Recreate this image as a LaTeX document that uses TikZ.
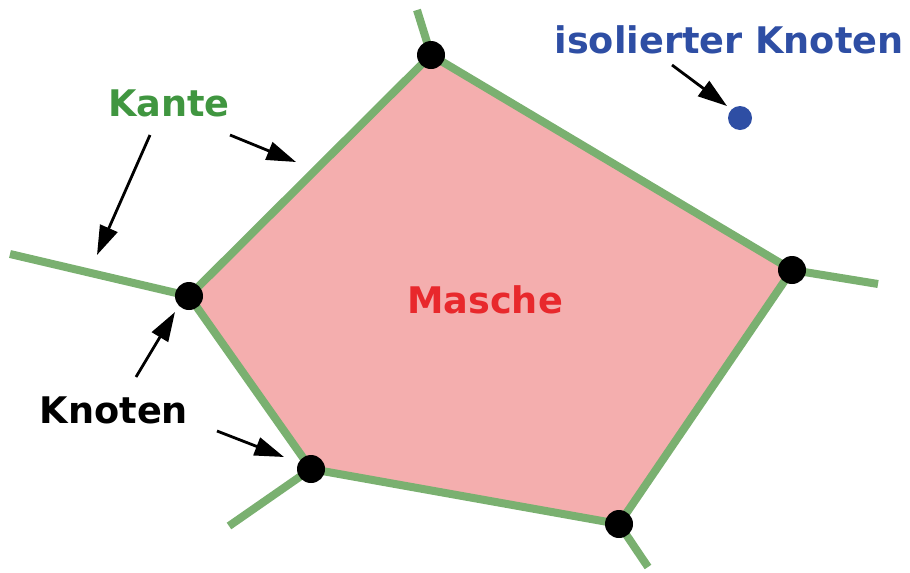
\documentclass[tikz,border=0pt]{standalone}
\usepackage{fontspec}
\setmainfont{DejaVu Sans}
\usepackage{tikz}
\usetikzlibrary{arrows.meta}

\definecolor{kantegruen}{RGB}{122,176,112}
\definecolor{labelgruen}{RGB}{64,150,64}
\definecolor{maschenrot}{RGB}{244,174,174}
\definecolor{textrot}{RGB}{232,40,44}
\definecolor{knotenblau}{RGB}{46,78,164}

\tikzset{
	kante/.style={draw=kantegruen, line width=6pt},
	knoten/.style={circle, fill=black, minimum size=21pt, inner sep=0pt},
	zeiger/.style={line width=2.1pt, -{Triangle[length=22pt, width=14pt]}},
	beschriftung/.style={font=\fontsize{27.5}{32}\selectfont\bfseries, inner sep=0pt}
}

\begin{document}
\begin{tikzpicture}[x=0.75pt, y=-0.75pt]
		%%%%% START %%%%%
		\useasboundingbox (0, 0) rectangle (910, 572);
		
		% Ecken der Masche
		\coordinate (A) at (431, 55);
		\coordinate (B) at (792, 270);
		\coordinate (C) at (619, 524);
		\coordinate (D) at (311, 469);
		\coordinate (E) at (189, 296);
		
		% freie Enden der aeusseren Kanten
		\coordinate (Aaus) at (417, 10);
		\coordinate (Baus) at (878, 284);
		\coordinate (Caus) at (648, 567);
		\coordinate (Daus) at (229, 526);
		\coordinate (Eaus) at (10, 254);
		
		\fill[maschenrot] (A) -- (B) -- (C) -- (D) -- (E) -- cycle;
		
		\draw[kante] (A) -- (B);
		\draw[kante] (B) -- (C);
		\draw[kante] (C) -- (D);
		\draw[kante] (D) -- (E);
		\draw[kante] (E) -- (A);
		
		\draw[kante] (A) -- (Aaus);
		\draw[kante] (B) -- (Baus);
		\draw[kante] (C) -- (Caus);
		\draw[kante] (D) -- (Daus);
		\draw[kante] (E) -- (Eaus);
		
		\node[knoten] (kA) at (A) {};
		\node[knoten] (kB) at (B) {};
		\node[knoten] (kC) at (C) {};
		\node[knoten] (kD) at (D) {};
		\node[knoten] (kE) at (E) {};
		
		\node[circle, fill=knotenblau, minimum size=18pt, inner sep=0pt] (iso) at (740, 118) {};
		
		% Beschriftungen
		\node[beschriftung, text=labelgruen, anchor=base] (kante) at (169, 116) {Kante};
		\node[beschriftung, text=knotenblau, anchor=base] (isotext) at (729, 53) {isolierter Knoten};
		\node[beschriftung, text=black, anchor=base] (knotentext) at (114, 423) {Knoten};
		\node[beschriftung, text=textrot, anchor=base] (masche) at (485, 313) {Masche};
		
		% Pfeile
		\coordinate (p1s) at (150, 135);
		\coordinate (p1e) at (97, 255);
		\coordinate (p2s) at (230, 135);
		\coordinate (p2e) at (296, 162);
		\coordinate (p3s) at (672, 65);
		\coordinate (p3e) at (727, 106);
		\coordinate (p4s) at (136, 377);
		\coordinate (p4e) at (175, 312);
		\coordinate (p5s) at (217, 431);
		\coordinate (p5e) at (284, 457);
		
		\draw[zeiger] (p1s) -- (p1e);
		\draw[zeiger] (p2s) -- (p2e);
		\draw[zeiger] (p3s) -- (p3e);
		\draw[zeiger] (p4s) -- (p4e);
		\draw[zeiger] (p5s) -- (p5e);
		%%%%% END %%%%%
\end{tikzpicture}
\end{document}
